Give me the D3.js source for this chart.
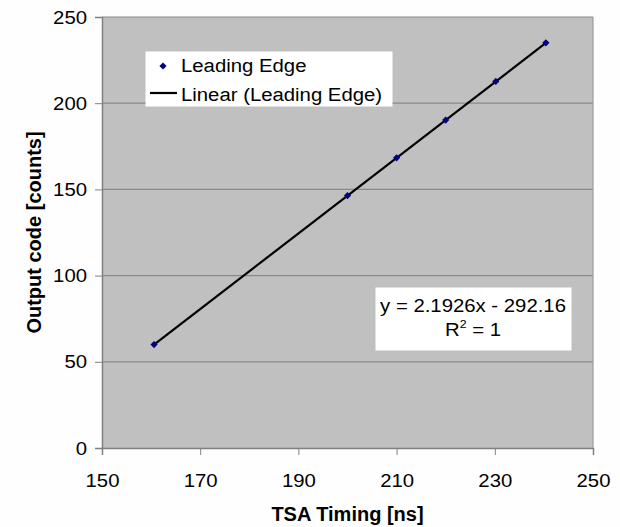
<!DOCTYPE html>
<html>
<head>
<meta charset="utf-8">
<script src="https://cdn.jsdelivr.net/npm/d3@7/dist/d3.min.js"></script>
<style>
  html, body { margin: 0; padding: 0; background: #fefefe; }
  svg text { font-family: "Liberation Sans", Arial, sans-serif; fill: #000; }
</style>
</head>
<body>
<svg id="chart" width="620" height="527"></svg>
<script>
// Leading-edge measurements: TSA timing (ns) vs output code (counts)
const timingNs = [160.6, 200, 210, 220, 230.2, 240.4];
const outputCounts = [60, 146.4, 168.3, 190.2, 212.6, 235];
const xTicks = [150, 170, 190, 210, 230, 250];
const yTicks = [0, 50, 100, 150, 200, 250];
const fitSlope = 2.1926;
const fitIntercept = -292.16;
const legendLabels = ["Leading Edge", "Linear (Leading Edge)"];

const svg = d3.select("#chart");
const plot = { left: 102, right: 593, top: 17, bottom: 448 };
const wide = 1.13; // horizontal stretch of the regular-weight text

const x = d3.scaleLinear().domain([150, 250]).range([plot.left, plot.right]);
const y = d3.scaleLinear().domain([0, 250]).range([plot.bottom, plot.top]);

// places a text at (px, py) and widens it horizontally
function stretchedText(parent, px, py, str, anchor) {
  return parent.append("text")
    .attr("transform", `translate(${px},${py}) scale(${wide},1)`)
    .attr("text-anchor", anchor || "start")
    .style("font-size", "18px")
    .text(str);
}

// plot background
svg.append("rect")
  .attr("x", plot.left).attr("y", plot.top)
  .attr("width", plot.right - plot.left).attr("height", plot.bottom - plot.top)
  .attr("fill", "#c0c0c0");

// horizontal gridlines
svg.append("g").selectAll("line").data(yTicks.filter(d => d > 0)).join("line")
  .attr("x1", plot.left).attr("x2", plot.right)
  .attr("y1", d => y(d)).attr("y2", d => y(d))
  .attr("stroke", "#8a8a8a").attr("stroke-width", 1.2);

// y axis
const yAxis = svg.append("g")
  .attr("transform", `translate(${plot.left},0)`)
  .call(d3.axisLeft(y).tickValues(yTicks).tickSize(7).tickPadding(0));
yAxis.select(".domain").attr("stroke", "#808080").attr("stroke-width", 1.5);
yAxis.selectAll(".tick line").attr("stroke", "#808080");
yAxis.selectAll("text")
  .attr("x", null).attr("dy", null)
  .attr("transform", `translate(-15,6) scale(${wide},1)`)
  .style("font-size", "18px")
  .style("font-family", "'Liberation Sans', Arial, sans-serif").attr("fill", "#111");

// x axis
const xAxis = svg.append("g")
  .attr("transform", `translate(0,${plot.bottom})`)
  .call(d3.axisBottom(x).tickValues(xTicks).tickSize(7).tickPadding(0));
xAxis.select(".domain").attr("stroke", "#808080").attr("stroke-width", 1.5);
xAxis.selectAll(".tick line").attr("stroke", "#808080");
xAxis.selectAll("text")
  .attr("y", null).attr("dy", null)
  .attr("transform", `translate(0,39) scale(${wide},1)`)
  .style("font-size", "18px")
  .style("font-family", "'Liberation Sans', Arial, sans-serif").attr("fill", "#111");

// right border
svg.append("line")
  .attr("x1", plot.right).attr("x2", plot.right)
  .attr("y1", plot.top).attr("y2", plot.bottom)
  .attr("stroke", "#9a9a9a").attr("stroke-width", 1.2);

// axis titles
svg.append("text")
  .attr("x", (plot.left + plot.right) / 2).attr("y", 521)
  .attr("text-anchor", "middle")
  .style("font-size", "20px").style("font-weight", "bold")
  .text("TSA Timing [ns]");
svg.append("text")
  .attr("transform", `translate(41,${(plot.top + plot.bottom) / 2}) rotate(-90)`)
  .attr("text-anchor", "middle")
  .style("font-size", "20px").style("font-weight", "bold")
  .text("Output code [counts]");

// linear trendline across the data range
const xMin = d3.min(timingNs), xMax = d3.max(timingNs);
svg.append("line")
  .attr("x1", x(xMin)).attr("y1", y(fitSlope * xMin + fitIntercept))
  .attr("x2", x(xMax)).attr("y2", y(fitSlope * xMax + fitIntercept))
  .attr("stroke", "#000").attr("stroke-width", 2.2);

// data markers: small square diamonds
const marker = d3.symbol().type(d3.symbolSquare).size(26);
svg.append("g").selectAll("path").data(timingNs.map((t, i) => [t, outputCounts[i]])).join("path")
  .attr("d", marker)
  .attr("transform", d => `translate(${x(d[0])},${y(d[1])}) rotate(45)`)
  .attr("fill", "#000080");

// legend
const lg = svg.append("g");
lg.append("rect").attr("x", 145.5).attr("y", 51.5).attr("width", 247).attr("height", 55)
  .attr("fill", "#fff");
lg.append("path").attr("d", marker).attr("transform", "translate(163,66) rotate(45)").attr("fill", "#000080");
stretchedText(lg, 181, 72, legendLabels[0]);
lg.append("line").attr("x1", 150).attr("x2", 177).attr("y1", 93).attr("y2", 93)
  .attr("stroke", "#000").attr("stroke-width", 2.2);
stretchedText(lg, 181, 101, legendLabels[1]);

// regression label
const eq = svg.append("g");
eq.append("rect").attr("x", 375.5).attr("y", 287.5).attr("width", 196).attr("height", 63)
  .attr("fill", "#fff");
stretchedText(eq, 473, 312, `y = ${fitSlope}x - ${Math.abs(fitIntercept)}`, "middle");
const r2 = stretchedText(eq, 473, 336, "", "middle");
r2.append("tspan").text("R");
r2.append("tspan").attr("dy", -8).style("font-size", "11px").text("2");
r2.append("tspan").attr("dy", 8).text(" = 1");
</script>
</body>
</html>
